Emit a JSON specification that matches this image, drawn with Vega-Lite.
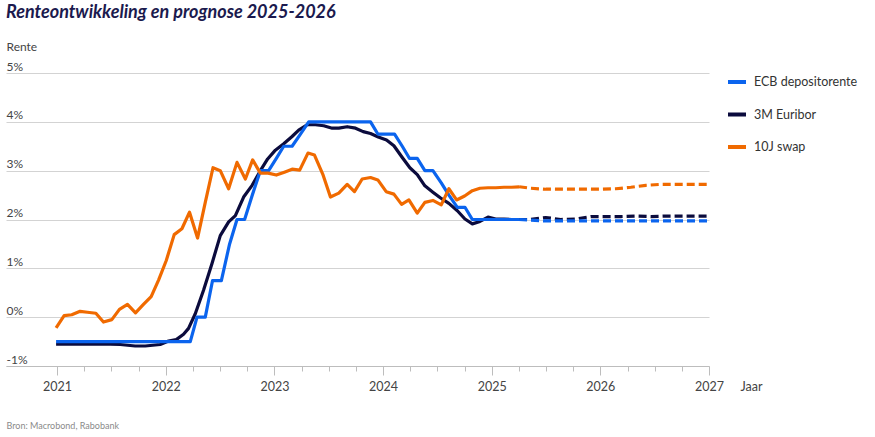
{
  "$schema": "https://vega.github.io/schema/vega-lite/v6.json",
  "width": 703,
  "height": 293,
  "autosize": {"type": "none"},
  "padding": {"left": 6, "top": 73, "right": 166, "bottom": 71},
  "background": "white",
  "title": {"text": "Renteontwikkeling en prognose 2025-2026", "anchor": "start", "frame": "group", "font": "Lato", "fontSize": 18, "fontWeight": "bold", "fontStyle": "italic", "color": "#1b1a4e", "baseline": "alphabetic", "offset": 4},
  "config": {"view": {"stroke": null}, "font": "Lato"},
  "datasets": {
    "hist": [
      {"s": "3M Euribor", "t": 2020.991, "v": -0.55},
      {"s": "3M Euribor", "t": 2021.074, "v": -0.55},
      {"s": "3M Euribor", "t": 2021.212, "v": -0.55},
      {"s": "3M Euribor", "t": 2021.396, "v": -0.55},
      {"s": "3M Euribor", "t": 2021.581, "v": -0.56},
      {"s": "3M Euribor", "t": 2021.719, "v": -0.59},
      {"s": "3M Euribor", "t": 2021.811, "v": -0.59},
      {"s": "3M Euribor", "t": 2021.903, "v": -0.57},
      {"s": "3M Euribor", "t": 2021.949, "v": -0.56},
      {"s": "3M Euribor", "t": 2022.026, "v": -0.49},
      {"s": "3M Euribor", "t": 2022.097, "v": -0.46},
      {"s": "3M Euribor", "t": 2022.164, "v": -0.35},
      {"s": "3M Euribor", "t": 2022.210, "v": -0.23},
      {"s": "3M Euribor", "t": 2022.272, "v": 0.07},
      {"s": "3M Euribor", "t": 2022.348, "v": 0.55},
      {"s": "3M Euribor", "t": 2022.426, "v": 1.10},
      {"s": "3M Euribor", "t": 2022.502, "v": 1.67},
      {"s": "3M Euribor", "t": 2022.579, "v": 1.95},
      {"s": "3M Euribor", "t": 2022.641, "v": 2.08},
      {"s": "3M Euribor", "t": 2022.717, "v": 2.46},
      {"s": "3M Euribor", "t": 2022.795, "v": 2.70},
      {"s": "3M Euribor", "t": 2022.871, "v": 3.00},
      {"s": "3M Euribor", "t": 2022.938, "v": 3.24},
      {"s": "3M Euribor", "t": 2023.009, "v": 3.42},
      {"s": "3M Euribor", "t": 2023.086, "v": 3.55},
      {"s": "3M Euribor", "t": 2023.163, "v": 3.70},
      {"s": "3M Euribor", "t": 2023.224, "v": 3.83},
      {"s": "3M Euribor", "t": 2023.301, "v": 3.94},
      {"s": "3M Euribor", "t": 2023.378, "v": 3.94},
      {"s": "3M Euribor", "t": 2023.454, "v": 3.92},
      {"s": "3M Euribor", "t": 2023.532, "v": 3.87},
      {"s": "3M Euribor", "t": 2023.593, "v": 3.87},
      {"s": "3M Euribor", "t": 2023.670, "v": 3.90},
      {"s": "3M Euribor", "t": 2023.747, "v": 3.87},
      {"s": "3M Euribor", "t": 2023.817, "v": 3.80},
      {"s": "3M Euribor", "t": 2023.885, "v": 3.76},
      {"s": "3M Euribor", "t": 2023.956, "v": 3.69},
      {"s": "3M Euribor", "t": 2024.032, "v": 3.63},
      {"s": "3M Euribor", "t": 2024.100, "v": 3.51},
      {"s": "3M Euribor", "t": 2024.177, "v": 3.27},
      {"s": "3M Euribor", "t": 2024.247, "v": 3.06},
      {"s": "3M Euribor", "t": 2024.315, "v": 2.92},
      {"s": "3M Euribor", "t": 2024.385, "v": 2.69},
      {"s": "3M Euribor", "t": 2024.459, "v": 2.56},
      {"s": "3M Euribor", "t": 2024.530, "v": 2.44},
      {"s": "3M Euribor", "t": 2024.606, "v": 2.33},
      {"s": "3M Euribor", "t": 2024.684, "v": 2.18},
      {"s": "3M Euribor", "t": 2024.754, "v": 2.01},
      {"s": "3M Euribor", "t": 2024.822, "v": 1.91},
      {"s": "3M Euribor", "t": 2024.892, "v": 1.96},
      {"s": "3M Euribor", "t": 2024.966, "v": 2.05},
      {"s": "3M Euribor", "t": 2025.037, "v": 2.01},
      {"s": "3M Euribor", "t": 2025.113, "v": 2.01},
      {"s": "3M Euribor", "t": 2025.184, "v": 2.00},
      {"s": "3M Euribor", "t": 2025.252, "v": 2.00},
      {"s": "ECB depositorente", "t": 2020.991, "v": -0.5},
      {"s": "ECB depositorente", "t": 2022.226, "v": -0.5},
      {"s": "ECB depositorente", "t": 2022.288, "v": 0.0},
      {"s": "ECB depositorente", "t": 2022.364, "v": 0.0},
      {"s": "ECB depositorente", "t": 2022.431, "v": 0.75},
      {"s": "ECB depositorente", "t": 2022.512, "v": 0.75},
      {"s": "ECB depositorente", "t": 2022.588, "v": 1.5},
      {"s": "ECB depositorente", "t": 2022.656, "v": 2.0},
      {"s": "ECB depositorente", "t": 2022.726, "v": 2.0},
      {"s": "ECB depositorente", "t": 2022.797, "v": 2.5},
      {"s": "ECB depositorente", "t": 2022.871, "v": 3.0},
      {"s": "ECB depositorente", "t": 2022.947, "v": 3.0},
      {"s": "ECB depositorente", "t": 2023.018, "v": 3.25},
      {"s": "ECB depositorente", "t": 2023.086, "v": 3.5},
      {"s": "ECB depositorente", "t": 2023.163, "v": 3.5},
      {"s": "ECB depositorente", "t": 2023.240, "v": 3.75},
      {"s": "ECB depositorente", "t": 2023.316, "v": 4.0},
      {"s": "ECB depositorente", "t": 2023.885, "v": 4.0},
      {"s": "ECB depositorente", "t": 2023.952, "v": 3.75},
      {"s": "ECB depositorente", "t": 2024.106, "v": 3.75},
      {"s": "ECB depositorente", "t": 2024.177, "v": 3.5},
      {"s": "ECB depositorente", "t": 2024.244, "v": 3.25},
      {"s": "ECB depositorente", "t": 2024.315, "v": 3.25},
      {"s": "ECB depositorente", "t": 2024.385, "v": 3.0},
      {"s": "ECB depositorente", "t": 2024.459, "v": 3.0},
      {"s": "ECB depositorente", "t": 2024.536, "v": 2.75},
      {"s": "ECB depositorente", "t": 2024.606, "v": 2.5},
      {"s": "ECB depositorente", "t": 2024.684, "v": 2.25},
      {"s": "ECB depositorente", "t": 2024.754, "v": 2.25},
      {"s": "ECB depositorente", "t": 2024.822, "v": 2.0},
      {"s": "ECB depositorente", "t": 2025.252, "v": 2.0},
      {"s": "10J swap", "t": 2020.991, "v": -0.22},
      {"s": "10J swap", "t": 2021.065, "v": 0.03},
      {"s": "10J swap", "t": 2021.135, "v": 0.05},
      {"s": "10J swap", "t": 2021.212, "v": 0.12},
      {"s": "10J swap", "t": 2021.279, "v": 0.10},
      {"s": "10J swap", "t": 2021.357, "v": 0.08},
      {"s": "10J swap", "t": 2021.427, "v": -0.10},
      {"s": "10J swap", "t": 2021.504, "v": -0.05},
      {"s": "10J swap", "t": 2021.574, "v": 0.16},
      {"s": "10J swap", "t": 2021.648, "v": 0.26},
      {"s": "10J swap", "t": 2021.722, "v": 0.09},
      {"s": "10J swap", "t": 2021.795, "v": 0.26},
      {"s": "10J swap", "t": 2021.866, "v": 0.42},
      {"s": "10J swap", "t": 2021.934, "v": 0.76},
      {"s": "10J swap", "t": 2022.005, "v": 1.16},
      {"s": "10J swap", "t": 2022.078, "v": 1.69},
      {"s": "10J swap", "t": 2022.149, "v": 1.81},
      {"s": "10J swap", "t": 2022.219, "v": 2.15},
      {"s": "10J swap", "t": 2022.293, "v": 1.62},
      {"s": "10J swap", "t": 2022.364, "v": 2.35},
      {"s": "10J swap", "t": 2022.435, "v": 3.06},
      {"s": "10J swap", "t": 2022.502, "v": 3.00},
      {"s": "10J swap", "t": 2022.579, "v": 2.63},
      {"s": "10J swap", "t": 2022.656, "v": 3.17},
      {"s": "10J swap", "t": 2022.733, "v": 2.83},
      {"s": "10J swap", "t": 2022.800, "v": 3.22},
      {"s": "10J swap", "t": 2022.871, "v": 2.95},
      {"s": "10J swap", "t": 2022.942, "v": 2.95},
      {"s": "10J swap", "t": 2023.018, "v": 2.91},
      {"s": "10J swap", "t": 2023.092, "v": 2.97},
      {"s": "10J swap", "t": 2023.163, "v": 3.03},
      {"s": "10J swap", "t": 2023.233, "v": 3.01},
      {"s": "10J swap", "t": 2023.309, "v": 3.36},
      {"s": "10J swap", "t": 2023.369, "v": 3.32},
      {"s": "10J swap", "t": 2023.445, "v": 2.93},
      {"s": "10J swap", "t": 2023.516, "v": 2.46},
      {"s": "10J swap", "t": 2023.593, "v": 2.54},
      {"s": "10J swap", "t": 2023.670, "v": 2.72},
      {"s": "10J swap", "t": 2023.737, "v": 2.57},
      {"s": "10J swap", "t": 2023.808, "v": 2.83},
      {"s": "10J swap", "t": 2023.885, "v": 2.86},
      {"s": "10J swap", "t": 2023.952, "v": 2.81},
      {"s": "10J swap", "t": 2024.029, "v": 2.57},
      {"s": "10J swap", "t": 2024.100, "v": 2.52},
      {"s": "10J swap", "t": 2024.171, "v": 2.31},
      {"s": "10J swap", "t": 2024.238, "v": 2.40},
      {"s": "10J swap", "t": 2024.315, "v": 2.13},
      {"s": "10J swap", "t": 2024.385, "v": 2.35},
      {"s": "10J swap", "t": 2024.459, "v": 2.39},
      {"s": "10J swap", "t": 2024.536, "v": 2.30},
      {"s": "10J swap", "t": 2024.606, "v": 2.63},
      {"s": "10J swap", "t": 2024.677, "v": 2.40},
      {"s": "10J swap", "t": 2024.751, "v": 2.48},
      {"s": "10J swap", "t": 2024.822, "v": 2.59},
      {"s": "10J swap", "t": 2024.892, "v": 2.64},
      {"s": "10J swap", "t": 2024.966, "v": 2.65},
      {"s": "10J swap", "t": 2025.037, "v": 2.65},
      {"s": "10J swap", "t": 2025.113, "v": 2.66},
      {"s": "10J swap", "t": 2025.184, "v": 2.66},
      {"s": "10J swap", "t": 2025.252, "v": 2.67}
    ],
    "fc": [
      {"s": "3M Euribor", "t": 2025.252, "v": 2.00},
      {"s": "3M Euribor", "t": 2025.359, "v": 2.00},
      {"s": "3M Euribor", "t": 2025.498, "v": 2.04},
      {"s": "3M Euribor", "t": 2025.636, "v": 2.00},
      {"s": "3M Euribor", "t": 2025.774, "v": 2.01},
      {"s": "3M Euribor", "t": 2025.912, "v": 2.06},
      {"s": "3M Euribor", "t": 2026.051, "v": 2.06},
      {"s": "3M Euribor", "t": 2026.189, "v": 2.06},
      {"s": "3M Euribor", "t": 2026.327, "v": 2.07},
      {"s": "3M Euribor", "t": 2026.465, "v": 2.06},
      {"s": "3M Euribor", "t": 2026.604, "v": 2.07},
      {"s": "3M Euribor", "t": 2026.742, "v": 2.07},
      {"s": "3M Euribor", "t": 2027.0, "v": 2.07},
      {"s": "ECB depositorente", "t": 2025.252, "v": 2.0},
      {"s": "ECB depositorente", "t": 2025.5, "v": 1.97},
      {"s": "ECB depositorente", "t": 2026.0, "v": 1.97},
      {"s": "ECB depositorente", "t": 2026.5, "v": 1.97},
      {"s": "ECB depositorente", "t": 2027.0, "v": 1.97},
      {"s": "10J swap", "t": 2025.252, "v": 2.67},
      {"s": "10J swap", "t": 2025.359, "v": 2.64},
      {"s": "10J swap", "t": 2025.498, "v": 2.62},
      {"s": "10J swap", "t": 2025.636, "v": 2.62},
      {"s": "10J swap", "t": 2025.820, "v": 2.62},
      {"s": "10J swap", "t": 2026.005, "v": 2.62},
      {"s": "10J swap", "t": 2026.143, "v": 2.63},
      {"s": "10J swap", "t": 2026.281, "v": 2.66},
      {"s": "10J swap", "t": 2026.419, "v": 2.70},
      {"s": "10J swap", "t": 2026.558, "v": 2.72},
      {"s": "10J swap", "t": 2026.742, "v": 2.72},
      {"s": "10J swap", "t": 2027.0, "v": 2.72}
    ]
  },
  "encoding": {
    "y": {
      "field": "v", "type": "quantitative",
      "scale": {"domain": [-1, 5], "nice": false, "zero": false},
      "axis": {
        "values": [-1, 0, 1, 2, 3, 4, 5],
        "labelExpr": "datum.value + '%'",
        "domain": false, "ticks": false, "tickSize": 0,
        "labelAlign": "left", "labelBaseline": "alphabetic", "labelPadding": 0, "labelOffset": -3,
        "labelFontSize": 12, "labelColor": "#444444", "labelFont": "Lato",
        "gridColor": "#d3d3d3", "gridWidth": 1,
        "title": "Rente", "titleAngle": 0, "titleX": 0, "titleY": -23, "titleAlign": "left", "titleBaseline": "alphabetic",
        "titleFontSize": 12, "titleFontWeight": "normal", "titleColor": "#444444", "titleFont": "Lato"
      }
    },
    "color": {
      "field": "s", "type": "nominal",
      "scale": {"domain": ["ECB depositorente", "3M Euribor", "10J swap"], "range": ["#0b64ee", "#0b0b3d", "#f06a00"]},
      "legend": {
        "orient": "none", "legendX": 720, "legendY": -2, "title": null,
        "symbolType": "stroke", "symbolSize": 324, "symbolStrokeWidth": 4, "symbolDash": [1, 0],
        "labelFontSize": 12.5, "labelColor": "#333333", "labelFont": "Lato", "labelOffset": 6,
        "rowPadding": 13.5, "padding": 0
      }
    }
  },
  "layer": [
    {
      "data": {"name": "hist"},
      "mark": {"type": "line", "strokeWidth": 3.2, "strokeJoin": "round"},
      "encoding": {
        "x": {
          "field": "t", "type": "quantitative",
          "scale": {"domain": [2020.53, 2027], "nice": false, "zero": false},
          "axis": {
            "values": [2021, 2021.25, 2021.5, 2021.75, 2022, 2022.25, 2022.5, 2022.75, 2023, 2023.25, 2023.5, 2023.75, 2024, 2024.25, 2024.5, 2024.75, 2025, 2025.25, 2025.5, 2025.75, 2026, 2026.25, 2026.5, 2026.75, 2027],
            "labelExpr": "datum.value % 1 === 0 ? '' + datum.value : ''",
            "grid": false, "domainColor": "#bdbdbd", "tickColor": "#bdbdbd",
            "tickSize": {"condition": {"test": "datum.value % 1 === 0", "value": 9}, "value": 5},
            "labelPadding": 15, "labelBaseline": "alphabetic", "labelFontSize": 12.5, "labelColor": "#444444", "labelFont": "Lato",
            "labelOverlap": false, "labelFlush": false,
            "title": "Jaar", "titleX": 734, "titleY": 24, "titleAlign": "left", "titleBaseline": "alphabetic",
            "titleFontSize": 12.5, "titleFontWeight": "normal", "titleColor": "#444444", "titleFont": "Lato"
          }
        }
      }
    },
    {
      "data": {"name": "fc"},
      "mark": {"type": "line", "strokeWidth": 3.2, "strokeDash": [8, 4]},
      "encoding": {
        "x": {
          "field": "t", "type": "quantitative",
          "scale": {"domain": [2020.53, 2027], "nice": false, "zero": false},
          "axis": {
            "orient": "bottom", "domain": false, "ticks": false, "labels": false, "grid": false,
            "title": "Bron: Macrobond, Rabobank", "titleX": 0, "titleY": 62, "titleAlign": "left", "titleBaseline": "alphabetic",
            "titleFontSize": 9, "titleFontWeight": "normal", "titleColor": "#8a8a8a", "titleFont": "Lato"
          }
        }
      }
    }
  ],
  "resolve": {"axis": {"x": "independent"}}
}
